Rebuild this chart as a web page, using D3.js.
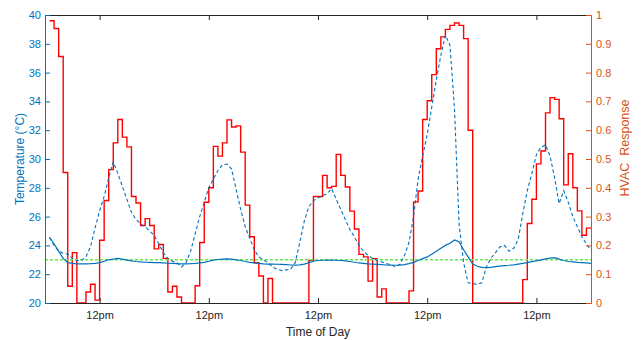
<!DOCTYPE html>
<html>
<head>
<meta charset="utf-8">
<script src="https://cdn.jsdelivr.net/npm/d3@7/dist/d3.min.js"></script>
<style>
  html, body { margin: 0; padding: 0; background: #fff; }
  svg { display: block; font-family: "Liberation Sans", Arial, Helvetica, sans-serif; }
</style>
</head>
<body>
<svg id="chart" width="643" height="340"></svg>
<script>
// Hourly samples, hour 1 .. 120
const hours = d3.range(1, 121);

// Indoor temperature (°C), solid blue
const indoorTemp = [
  24.55, 24.1, 23.6, 23.1, 22.8, 22.75, 22.72, 22.72, 22.72, 22.73,
  22.75, 22.8, 22.9, 23.0, 23.05, 23.1, 23.05, 22.98, 22.92, 22.88,
  22.85, 22.83, 22.82, 22.8, 22.8, 22.78, 22.76, 22.75, 22.73, 22.72,
  22.72, 22.73, 22.75, 22.78, 22.82, 22.9, 22.98, 23.02, 23.05, 23.07,
  23.05, 23.0, 22.95, 22.88, 22.82, 22.78, 22.75, 22.72, 22.7, 22.7,
  22.69, 22.68, 22.66, 22.64, 22.63, 22.65, 22.7, 22.8, 22.9, 22.95,
  22.97, 22.98, 22.98, 22.97, 22.95, 22.92, 22.88, 22.83, 22.78, 22.75,
  22.72, 22.7, 22.68, 22.66, 22.64, 22.63, 22.62, 22.63, 22.67, 22.73,
  22.82, 22.95, 23.08, 23.2, 23.38, 23.6, 23.8, 24.0, 24.15, 24.38,
  24.25, 23.7, 23.2, 22.7, 22.55, 22.48, 22.45, 22.47, 22.52, 22.56,
  22.6, 22.62, 22.65, 22.7, 22.75, 22.8, 22.87, 22.93, 23.0, 23.07,
  23.12, 23.15, 23.05, 22.95, 22.88, 22.85, 22.82, 22.8, 22.78, 22.75
];

// Free-running temperature (°C), dashed blue
const freeTemp = [
  24.55, 24.0, 23.6, 23.45, 23.4, 23.1, 22.95, 22.95, 23.2, 23.9,
  25.2, 26.4, 27.4, 28.7, 29.8, 29.0, 28.1, 27.2, 26.3, 25.8,
  25.5, 25.3, 25.0, 24.7, 24.1, 23.5, 23.1, 22.9, 22.8, 22.5,
  22.8, 23.6, 24.8, 26.0, 27.0, 28.0, 28.6, 29.2, 29.6, 29.65,
  29.3, 27.9, 26.5, 25.3, 24.5, 23.7, 23.2, 23.0, 22.8, 22.5,
  22.35, 22.25, 22.3, 22.35, 22.8, 24.2, 25.7, 26.7, 27.1, 27.3,
  27.45, 27.6, 27.95, 27.2, 26.5, 25.8, 25.1, 24.6, 24.0, 23.6,
  23.3, 23.1, 22.95, 22.85, 22.75, 22.65, 22.5, 22.7, 23.3, 24.2,
  26.0, 28.6, 30.2, 31.7, 33.6, 35.5, 37.2, 38.6, 37.9, 33.5,
  25.5, 22.8, 21.4, 21.35, 21.3, 21.4, 22.5, 23.1, 23.5, 23.9,
  24.0, 23.6, 23.8, 24.4, 26.2, 27.8, 29.0, 30.3, 30.8, 31.0,
  30.2, 28.7, 26.9, 27.8, 27.0, 26.0, 25.3, 24.6, 24.1, 23.66
];

// Temperature setpoint (°C), dashed green
const setpoint = 23;

// HVAC response per hour (0..1), red stairs; each value holds from its hour to the next
const hvacResponse = [
  0.98, 0.953, 0.856, 0.453, 0.058, 0.175, 0, 0, 0.038, 0.065,
  0.01, 0.218, 0.356, 0.463, 0.556, 0.637, 0.576, 0.542, 0.37, 0.347,
  0.269, 0.293, 0.269, 0.188, 0.203, 0.155, 0.038, 0.058, 0.021, 0,
  0, 0, 0.06, 0.21, 0.35, 0.4, 0.544, 0.51, 0.556, 0.636,
  0.611, 0.615, 0.524, 0.34, 0.23, 0.14, 0.094, 0, 0.085, 0,
  0, 0, 0, 0, 0, 0, 0, 0.148, 0.37, 0.37,
  0.443, 0.4, 0.405, 0.516, 0.443, 0.403, 0.319, 0.257, 0.169, 0.16,
  0.076, 0.154, 0.021, 0.049, 0, 0, 0, 0, 0, 0.042,
  0.351, 0.389, 0.637, 0.702, 0.793, 0.883, 0.924, 0.95, 0.964, 0.972,
  0.964, 0.918, 0.6, 0, 0, 0, 0, 0, 0, 0,
  0, 0, 0, 0, 0.081, 0.276, 0.36, 0.483, 0.528, 0.66,
  0.713, 0.707, 0.64, 0.41, 0.518, 0.4, 0.32, 0.235, 0.26
];

// Noon of each day, in hours from the start
const noonTicks = [12, 36, 60, 84, 108];
const noonLabel = "12pm";
const tempTicks = d3.range(20, 41, 2);
const hvacTicks = d3.range(0, 11).map(i => i / 10);

const blue = "#0072BD", orange = "#D95319", dark = "#262626";

const svg = d3.select("#chart");
const plotL = 45, plotR = 591, plotT = 15, plotB = 303;

const x = d3.scaleLinear().domain([0, 120]).range([plotL, plotR]);
const yT = d3.scaleLinear().domain([20, 40]).range([plotB, plotT]);
const yH = d3.scaleLinear().domain([0, 1]).range([plotB, plotT]);

svg.append("defs").append("clipPath").attr("id", "plot")
  .append("rect").attr("x", plotL).attr("y", plotT - 1)
  .attr("width", plotR - plotL).attr("height", plotB - plotT + 2);

const g = svg.append("g").attr("clip-path", "url(#plot)");

// HVAC stairs
const hvacPts = hvacResponse.map((v, i) => [hours[i], v]);
hvacPts.push([hours[hvacResponse.length], hvacResponse[hvacResponse.length - 1]]);
g.append("path")
  .attr("d", d3.line().curve(d3.curveStepAfter).x(d => x(d[0])).y(d => yH(d[1]))(hvacPts))
  .attr("fill", "none").attr("stroke", "#ff0000").attr("stroke-width", 1.4);

// Setpoint
g.append("line")
  .attr("x1", x(0)).attr("x2", x(120))
  .attr("y1", yT(setpoint)).attr("y2", yT(setpoint))
  .attr("stroke", "#66e655").attr("stroke-width", 1.5).attr("stroke-dasharray", "3,2");

const tempLine = d3.line().x((d, i) => x(hours[i])).y(d => yT(d));

g.append("path").attr("d", tempLine(indoorTemp))
  .attr("fill", "none").attr("stroke", blue).attr("stroke-width", 1.2);

g.append("path").attr("d", tempLine(freeTemp))
  .attr("fill", "none").attr("stroke", blue).attr("stroke-width", 1.1)
  .attr("stroke-dasharray", "3.5,2.5");

// Frame: top edge with inward noon ticks
svg.append("g").attr("transform", `translate(0,${plotT})`)
  .call(d3.axisTop(x).tickValues(noonTicks).tickSizeInner(-5).tickSizeOuter(0).tickFormat(""))
  .call(a => a.selectAll("path, line").attr("stroke", dark));

// Bottom axis
const xa = svg.append("g").attr("transform", `translate(0,${plotB})`)
  .call(d3.axisBottom(x).tickValues(noonTicks).tickSizeInner(-5).tickSizeOuter(0)
    .tickPadding(8.5).tickFormat(() => noonLabel));
xa.selectAll("path, line").attr("stroke", dark);
xa.selectAll("text").attr("fill", dark).style("font-size", "11px");

// Left temperature axis
const la = svg.append("g").attr("transform", `translate(${plotL},0)`)
  .call(d3.axisLeft(yT).tickValues(tempTicks).tickSizeInner(-5).tickSizeOuter(0).tickPadding(4));
la.selectAll("path, line").attr("stroke", blue);
la.selectAll("text").attr("fill", blue).style("font-size", "11px");

// Right HVAC axis
const ra = svg.append("g").attr("transform", `translate(${plotR},0)`)
  .call(d3.axisRight(yH).tickValues(hvacTicks).tickSizeInner(-5).tickSizeOuter(0).tickPadding(5)
    .tickFormat(d => String(+d.toFixed(1))));
ra.selectAll("path, line").attr("stroke", orange);
ra.selectAll("text").attr("fill", orange).style("font-size", "11px");

// Axis titles
svg.append("text").attr("x", (plotL + plotR) / 2).attr("y", 335.5)
  .attr("text-anchor", "middle").attr("fill", dark).style("font-size", "12px")
  .text("Time of Day");

svg.append("text").attr("transform", "translate(24,159) rotate(-90)")
  .attr("text-anchor", "middle").attr("fill", blue).style("font-size", "12px")
  .text("Temperature (°C)");

svg.append("text").attr("transform", "translate(629,148) rotate(-90)")
  .attr("text-anchor", "middle").attr("fill", orange).style("font-size", "12.5px")
  .style("white-space", "pre").attr("xml:space", "preserve")
  .text("HVAC  Response");
</script>
</body>
</html>
